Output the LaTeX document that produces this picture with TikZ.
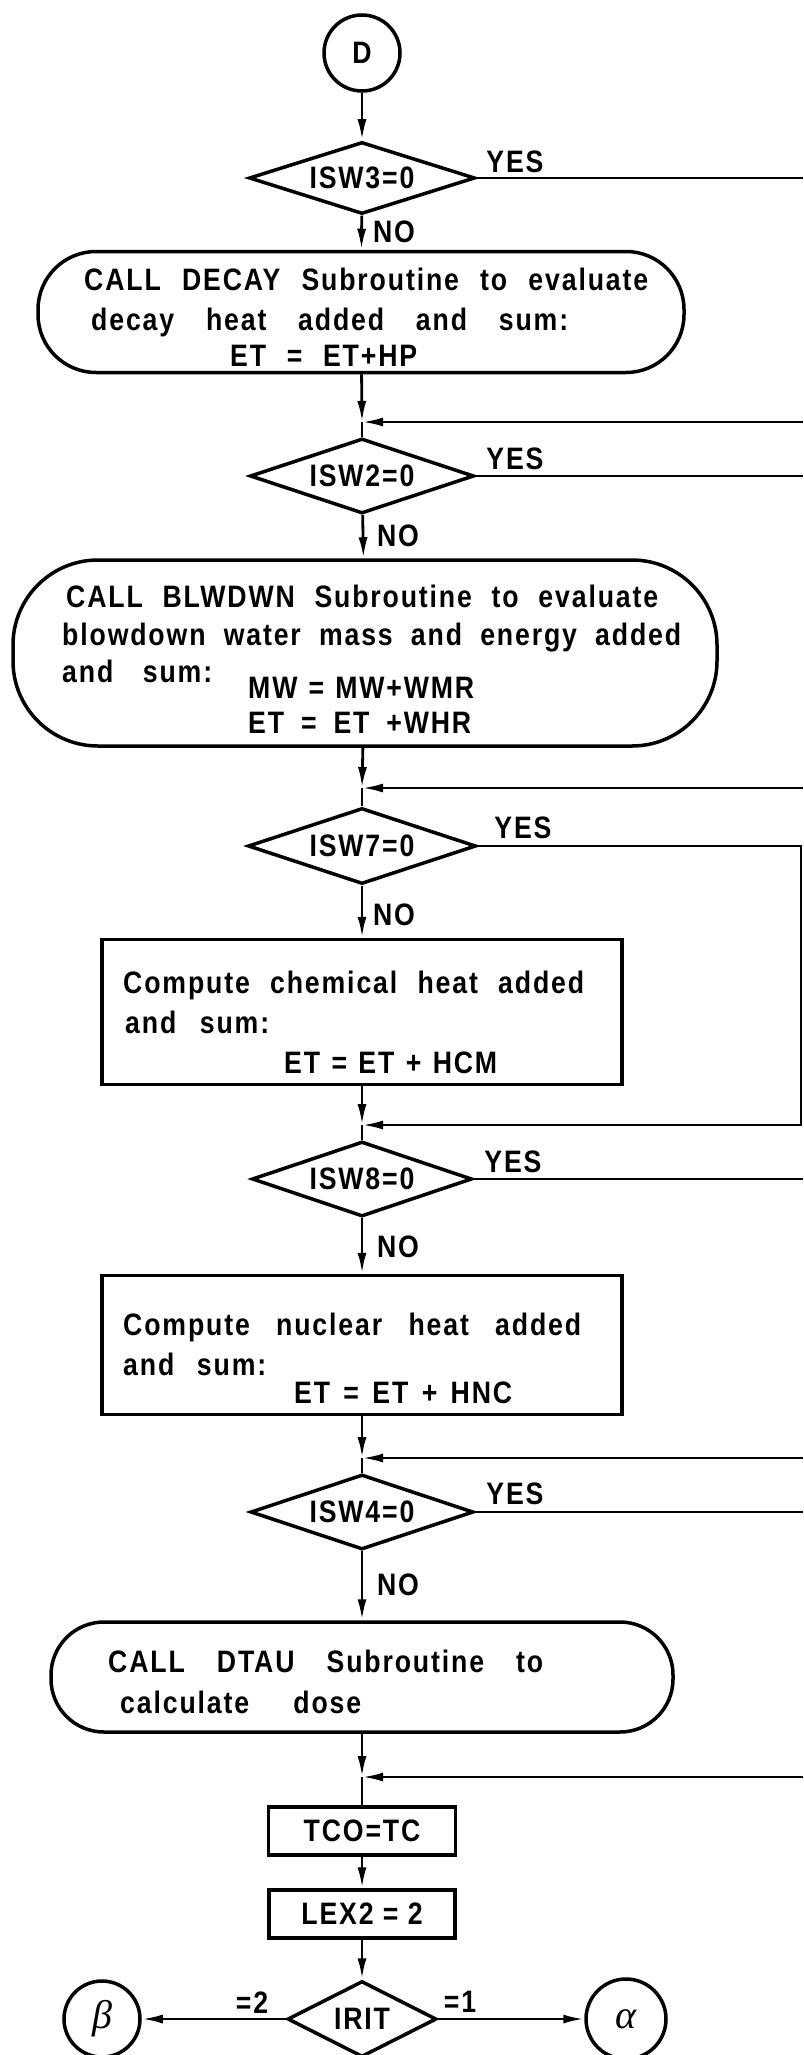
\documentclass[tikz,border=0pt]{standalone}
\usepackage{fontspec}
\setmainfont{Liberation Sans}[LetterSpace=6, FakeStretch=0.86]
\newfontfamily\greekfont{Liberation Serif}
\usetikzlibrary{shapes.geometric,arrows.meta}

% one text line stretched to a fixed width
\newcommand{\fitline}[2]{\makebox[#1pt][s]{#2}}

\tikzset{
  every node/.style={font=\fontsize{31}{33}\selectfont\bfseries, inner sep=0pt},
  decision/.style={draw, diamond, aspect=3, line width=3.5pt},
  procbox/.style={draw, rectangle, line width=3.5pt},
  termbox/.style={draw, rectangle, line width=3.5pt, rounded corners=#1},
  offpage/.style={draw, circle, line width=3.5pt, minimum size=#1},
  flow/.style={line width=2.8pt},
  arr/.style={flow, -{Latex[length=21pt,width=9pt]}},
  txt/.style={anchor=base west},
  greek/.style={font=\fontsize{40}{42}\selectfont\greekfont\itshape},
}

\begin{document}
\begin{tikzpicture}[x=1pt, y=-1pt]
\path[use as bounding box, fill=white] (0,0) rectangle (803,2055);

% ---- start connector
\node[offpage=76pt] (D) at (362,53) {D};

% ---- ISW3 / DECAY
\node[decision, minimum width=226pt, minimum height=72pt] (d3) at (362,178) {ISW3=0};
\node (yes3) at (515,162) {YES};
\node (no3) at (394,232) {NO};
\coordinate (e3) at (803,178);
\node[termbox=58pt, minimum width=646pt, minimum height=121pt] (decay) at (361,312) {};
\node[txt] (decay1) at (84,290) {\fitline{564}{CALL DECAY Subroutine to evaluate}};
\node[txt] (decay2) at (91,330) {\fitline{477}{decay heat added and sum:}};
\node[txt] (decay3) at (230,366) {\fitline{187}{ET = ET+HP}};
\coordinate (m1) at (362,422);
\coordinate (r1) at (803,422);

% ---- ISW2 / BLWDWN
\node[decision, minimum width=224pt, minimum height=75pt] (d2) at (362,476) {ISW2=0};
\node (yes2) at (515,459) {YES};
\node (no2) at (398,536) {NO};
\coordinate (e2) at (803,476);
\node[termbox=85pt, minimum width=704pt, minimum height=186pt] (blow) at (365,653) {};
\node[txt] (blow1) at (66,607) {\fitline{592}{CALL BLWDWN Subroutine to evaluate}};
\node[txt] (blow2) at (62,645) {\fitline{619}{blowdown water mass and energy added}};
\node[txt] (blow3) at (62,682) {\fitline{150}{and sum:}};
\node[txt] (blow4) at (248,698) {\fitline{226}{MW = MW+WMR}};
\node[txt] (blow5) at (248,733) {\fitline{223}{ET = ET +WHR}};
\coordinate (m2) at (362,788);
\coordinate (r2) at (803,788);

% ---- ISW7 / chemical heat
\node[decision, minimum width=228pt, minimum height=76pt] (d7) at (362,846) {ISW7=0};
\node (yes7) at (523,828) {YES};
\node (no7) at (394,915) {NO};
\coordinate (e7) at (801,846);
\node[procbox, minimum width=520pt, minimum height=145pt] (chem) at (362,1012) {};
\node[txt] (chem1) at (123,993) {\fitline{461}{Compute chemical heat added}};
\node[txt] (chem2) at (125,1033) {\fitline{144}{and sum:}};
\node[txt] (chem3) at (284,1073) {\fitline{213}{ET = ET + HCM}};
\coordinate (m3) at (362,1125);
\coordinate (r3) at (801,1125);

% ---- ISW8 / nuclear heat
\node[decision, minimum width=220pt, minimum height=75pt] (d8) at (362,1179) {ISW8=0};
\node (yes8) at (513,1162) {YES};
\node (no8) at (398,1247) {NO};
\coordinate (e8) at (803,1179);
\node[procbox, minimum width=520pt, minimum height=139pt] (nuc) at (362,1345) {};
\node[txt] (nuc1) at (123,1335) {\fitline{458}{Compute nuclear heat added}};
\node[txt] (nuc2) at (123,1375) {\fitline{143}{and sum:}};
\node[txt] (nuc3) at (294,1403) {\fitline{218}{ET = ET + HNC}};
\coordinate (m4) at (362,1458);
\coordinate (r4) at (803,1458);

% ---- ISW4 / DTAU
\node[decision, minimum width=223pt, minimum height=75pt] (d4) at (362,1512) {ISW4=0};
\node (yes4) at (515,1494) {YES};
\node (no4) at (398,1585) {NO};
\coordinate (e4) at (803,1512);
\node[termbox=53pt, minimum width=622pt, minimum height=110pt] (dtau) at (362,1677) {};
\node[txt] (dtau1) at (108,1672) {\fitline{435}{CALL DTAU Subroutine to}};
\node[txt] (dtau2) at (120,1713) {\fitline{241}{calculate dose}};
\coordinate (m5) at (362,1777);
\coordinate (r5) at (803,1777);

% ---- final assignments and branch
\node[procbox, minimum width=187pt, minimum height=48pt] (tco) at (362,1831) {TCO=TC};
\node[procbox, minimum width=186pt, minimum height=48pt] (lex) at (362,1914) {LEX2 = 2};
\node[decision, minimum width=149pt, minimum height=76pt] (irit) at (362,2019) {IRIT};
\node[offpage=76pt] (beta) at (102,2019) {};
\node[greek] (betasym) at (beta.center) {β};
\node[offpage=80pt] (alpha) at (626,2019) {};
\node[greek] (alphasym) at (alpha.center) {α};
\node (eq2) at (252,2003) {=2};
\node (eq1) at (460,2002) {=1};

% ---- main flow
\draw[arr] (D) -- (d3);
\draw[arr] (d3) -- (decay);
\draw[arr] (decay) -- (m1);
\draw[flow] (m1) -- (d2);
\draw[arr] (d2) -- (blow);
\draw[arr] (blow) -- (m2);
\draw[flow] (m2) -- (d7);
\draw[arr] (d7) -- (chem);
\draw[arr] (chem) -- (m3);
\draw[flow] (m3) -- (d8);
\draw[arr] (d8) -- (nuc);
\draw[arr] (nuc) -- (m4);
\draw[flow] (m4) -- (d4);
\draw[arr] (d4) -- (dtau);
\draw[arr] (dtau) -- (m5);
\draw[flow] (m5) -- (tco);
\draw[arr] (tco) -- (lex);
\draw[arr] (lex) -- (irit);
\draw[arr] (irit.west) -- (beta);
\draw[arr] (irit.east) -- (alpha);

% ---- YES branches leaving to the right, and their returns
\draw[flow] (d3.east) -- (e3);
\draw[arr] (r1) -- (m1);
\draw[flow] (d2.east) -- (e2);
\draw[arr] (r2) -- (m2);
\draw[arr] (d7.east) -- (e7) -- (r3) -- (m3);
\draw[flow] (d8.east) -- (e8);
\draw[arr] (r4) -- (m4);
\draw[flow] (d4.east) -- (e4);
\draw[arr] (r5) -- (m5);
\end{tikzpicture}
\end{document}
